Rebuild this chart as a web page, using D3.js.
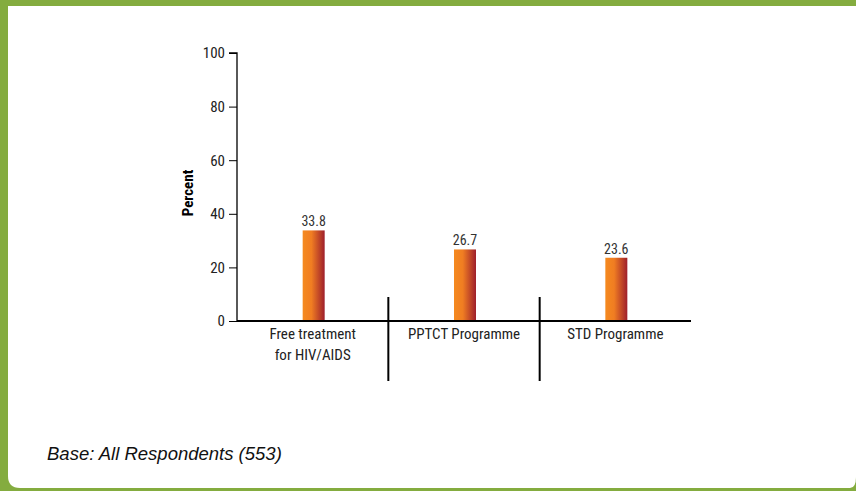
<!DOCTYPE html>
<html>
<head>
<meta charset="utf-8">
<script src="https://cdn.jsdelivr.net/npm/d3@7"></script>
<style>
  html, body { margin: 0; padding: 0; background: #84ac3f; }
  svg { display: block; }
</style>
</head>
<body>
<svg id="chart" width="856" height="491"></svg>
<script>
const categories = [["Free treatment", "for HIV/AIDS"], ["PPTCT Programme"], ["STD Programme"]];
const values = [33.8, 26.7, 23.6];
const yTicks = [0, 20, 40, 60, 80, 100];
const yTitle = "Percent";
const footnote = "Base: All Respondents (553)";

const svg = d3.select("#chart");
const green = "#84ac3f";
const narrow = "'Liberation Sans Narrow', 'Arial Narrow', 'Roboto Condensed', sans-serif";

// frame
svg.append("rect").attr("x", 0).attr("y", 0).attr("width", 856).attr("height", 491).attr("fill", green);
svg.append("path")
  .attr("d", "M8,6 H856 V477 Q856,488 850,488 H20 Q8,488 8,476 Z")
  .attr("fill", "#ffffff");

const defs = svg.append("defs");
const grad = defs.append("linearGradient").attr("id", "barGrad").attr("x1", "0").attr("x2", "1").attr("y1", "0").attr("y2", "0");
grad.append("stop").attr("offset", "0%").attr("stop-color", "#f58a1f");
grad.append("stop").attr("offset", "40%").attr("stop-color", "#f07d22");
grad.append("stop").attr("offset", "100%").attr("stop-color", "#9e1f2b");

const x0 = 237, x1 = 691, yTop = 53, yBot = 321;
const x = d3.scaleBand().domain(d3.range(categories.length)).range([x0, x1]).paddingInner(0).paddingOuter(0);
const y = d3.scaleLinear().domain([0, 100]).range([yBot, yTop]);

// y axis
const yAxis = d3.axisLeft(y).tickValues(yTicks).tickSize(8).tickPadding(4);
const gy = svg.append("g").attr("transform", `translate(${x0},0)`).call(yAxis);
gy.select(".domain").attr("stroke", "#000").attr("stroke-width", 1.3).attr("d", `M-8,${yTop}H0V${yBot}`);
gy.selectAll(".tick line").attr("stroke", "#000").attr("stroke-width", 1);
gy.selectAll(".tick text").attr("font-family", narrow).attr("font-size", 15).attr("fill", "#222");

// y title
svg.append("text")
  .attr("transform", `translate(193,${(yTop + yBot) / 2 + 6}) rotate(-90)`)
  .attr("text-anchor", "middle")
  .attr("font-family", narrow)
  .attr("font-weight", "bold")
  .attr("font-size", 15)
  .attr("fill", "#000")
  .text(yTitle);

// bars
const barW = 22;
svg.selectAll("rect.bar").data(values).enter().append("rect")
  .attr("class", "bar")
  .attr("x", (d, i) => x(i) + x.bandwidth() / 2 - barW / 2 + 1)
  .attr("y", d => y(d))
  .attr("width", barW)
  .attr("height", d => yBot - y(d))
  .attr("fill", "url(#barGrad)");

// value labels
svg.selectAll("text.val").data(values).enter().append("text")
  .attr("class", "val")
  .attr("x", (d, i) => x(i) + x.bandwidth() / 2 + 1)
  .attr("y", d => y(d) - 4)
  .attr("text-anchor", "middle")
  .attr("font-family", narrow)
  .attr("font-size", 14)
  .attr("fill", "#333")
  .text(d => d.toFixed(1));

// x axis line
svg.append("line").attr("x1", x0).attr("x2", x1).attr("y1", yBot).attr("y2", yBot)
  .attr("stroke", "#000").attr("stroke-width", 2.2);

// separators
svg.selectAll("line.sep").data(d3.range(1, categories.length)).enter().append("line")
  .attr("class", "sep")
  .attr("x1", i => x(i)).attr("x2", i => x(i))
  .attr("y1", 297).attr("y2", 381)
  .attr("stroke", "#000").attr("stroke-width", 2);

// category labels
const cl = svg.selectAll("text.cat").data(categories).enter().append("text")
  .attr("class", "cat")
  .attr("text-anchor", "middle")
  .attr("font-family", narrow)
  .attr("font-size", 15)
  .attr("fill", "#222");
cl.selectAll("tspan").data((d, i) => d.map(t => ({t, i}))).enter().append("tspan")
  .attr("x", d => x(d.i) + x.bandwidth() / 2)
  .attr("y", (d, j) => 339 + j * 21)
  .text(d => d.t);

// footnote
svg.append("text")
  .attr("x", 47).attr("y", 460)
  .attr("font-family", "'Liberation Sans', Arial, sans-serif")
  .attr("font-style", "italic")
  .attr("font-size", 18.5)
  .attr("fill", "#111")
  .text(footnote);
</script>
</body>
</html>
